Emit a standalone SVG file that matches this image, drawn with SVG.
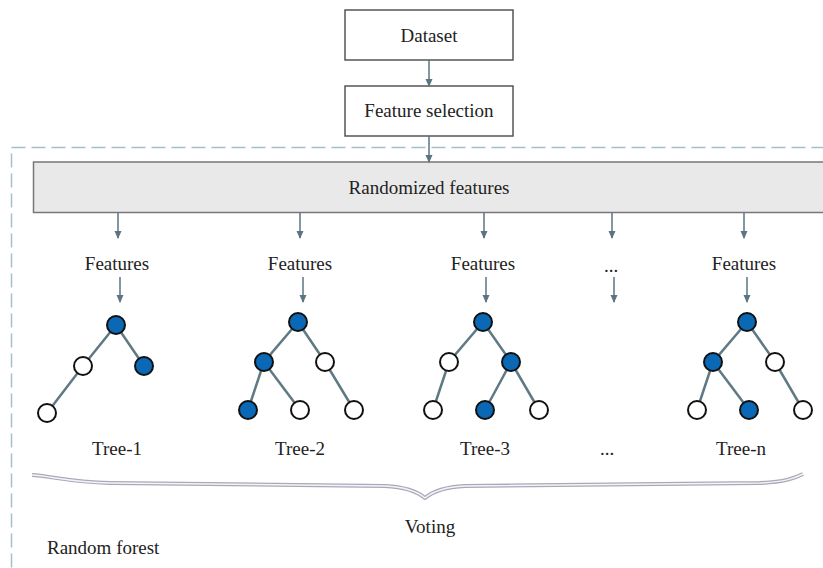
<svg xmlns="http://www.w3.org/2000/svg" width="823" height="568" viewBox="0 0 823 568">
<defs>
<marker id="ah" markerWidth="8" markerHeight="8" refX="7" refY="4" orient="auto" markerUnits="userSpaceOnUse">
<path d="M0,0.5 L8,4 L0,7.5 Z" fill="#5a7481"/>
</marker>
<style>
text{font-family:"Liberation Serif","Times New Roman",serif;font-size:19px;fill:#222;text-anchor:middle}
.box{fill:#fff;stroke:#555;stroke-width:1.5}
.arr{stroke:#5a7481;stroke-width:1.5;fill:none;marker-end:url(#ah)}
.e{stroke:#5f7a85;stroke-width:2.5;fill:none}
.f{fill:#0a68b4;stroke:#111;stroke-width:2}
.w{fill:#fff;stroke:#111;stroke-width:2}
</style>
</defs>
<rect x="11.5" y="147.5" width="900" height="500" fill="none" stroke="#a3c0cb" stroke-width="1.5" stroke-dasharray="14,6"/>
<g id="dataset"><rect class="box" x="345" y="10" width="168" height="50"/><text x="429" y="42">Dataset</text></g>
<g id="feature-selection"><rect class="box" x="345" y="86" width="168" height="50"/><text x="429" y="117">Feature selection</text></g>
<g id="randomized-features"><path d="M840,162 H33.5 V212.5 H840" fill="#e9e9e9" stroke="#777" stroke-width="1.5"/><text x="429" y="194">Randomized features</text></g>
<g id="connectors">
<line class="arr" x1="429" y1="60" x2="429" y2="86"/>
<line class="arr" x1="429" y1="136" x2="429" y2="162"/>
<line class="arr" x1="118" y1="213" x2="118" y2="238"/>
<line class="arr" x1="300" y1="213" x2="300" y2="238"/>
<line class="arr" x1="484" y1="213" x2="484" y2="238"/>
<line class="arr" x1="612" y1="213" x2="612" y2="238"/>
<line class="arr" x1="744" y1="213" x2="744" y2="238"/>
<line class="arr" x1="120" y1="277" x2="120" y2="302"/>
<line class="arr" x1="303" y1="277" x2="303" y2="302"/>
<line class="arr" x1="486" y1="277" x2="486" y2="302"/>
<line class="arr" x1="614" y1="277" x2="614" y2="302"/>
<line class="arr" x1="747" y1="277" x2="747" y2="302"/>
</g>
<g id="features-1"><text x="117" y="270">Features</text></g>
<g id="features-2"><text x="300" y="270">Features</text></g>
<g id="features-3"><text x="483" y="270">Features</text></g>
<g id="features-dots"><text x="611" y="272">...</text></g>
<g id="features-n"><text x="744" y="270">Features</text></g>
<g id="tree-1">
<path class="e" d="M116,325 L83,366 L47,413 M116,325 L144,366"/>
<circle class="f" cx="116" cy="325" r="9"/><circle class="w" cx="83" cy="366" r="9"/><circle class="f" cx="144" cy="366" r="9"/><circle class="w" cx="47" cy="413" r="9"/>
<text x="117" y="455">Tree-1</text>
</g>
<g id="tree-2">
<path class="e" d="M298,322 L264,362 L248,410 M264,362 L300,410 M298,322 L325,362 L354,410"/>
<circle class="f" cx="298" cy="322" r="9"/><circle class="f" cx="264" cy="362" r="9"/><circle class="w" cx="325" cy="362" r="9"/><circle class="f" cx="248" cy="410" r="9"/><circle class="w" cx="300" cy="410" r="9"/><circle class="w" cx="354" cy="410" r="9"/>
<text x="300" y="455">Tree-2</text>
</g>
<g id="tree-3">
<path class="e" d="M483,322 L449,362 L433,410 M483,322 L511,362 L485,410 M511,362 L539,410"/>
<circle class="f" cx="483" cy="322" r="9"/><circle class="w" cx="449" cy="362" r="9"/><circle class="f" cx="511" cy="362" r="9"/><circle class="w" cx="433" cy="410" r="9"/><circle class="f" cx="485" cy="410" r="9"/><circle class="w" cx="539" cy="410" r="9"/>
<text x="485" y="455">Tree-3</text>
</g>
<g id="tree-dots"><text x="607" y="455">...</text></g>
<g id="tree-n">
<path class="e" d="M747,322 L713,362 L697,410 M713,362 L749,410 M747,322 L775,362 L803,410"/>
<circle class="f" cx="747" cy="322" r="9"/><circle class="f" cx="713" cy="362" r="9"/><circle class="w" cx="775" cy="362" r="9"/><circle class="w" cx="697" cy="410" r="9"/><circle class="f" cx="749" cy="410" r="9"/><circle class="w" cx="803" cy="410" r="9"/>
<text x="741" y="455">Tree-n</text>
</g>
<g id="voting-brace">
<path d="M32,475 C50,476 70,482 110,483 L385,486 C405,487 418,492 425,498 C432,492 445,487 465,486 L760,483 C785,482 795,478 803,474" fill="none" stroke="#a9a9b8" stroke-width="4" stroke-linejoin="round"/>
<path d="M32,475 C50,476 70,482 110,483 L385,486 C405,487 418,492 425,498 C432,492 445,487 465,486 L760,483 C785,482 795,478 803,474" fill="none" stroke="#f4f4f8" stroke-width="1.5" stroke-linejoin="round"/>
<text x="430" y="533">Voting</text>
</g>
<g id="random-forest-label"><text x="47" y="554" style="text-anchor:start">Random forest</text></g>
</svg>
